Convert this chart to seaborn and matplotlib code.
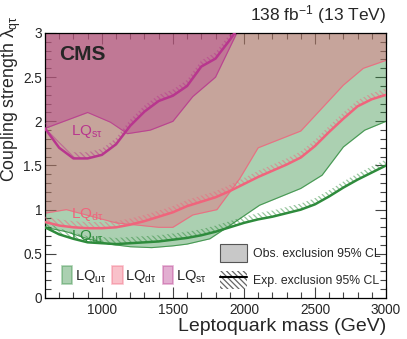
import numpy as np
import pandas as pd
import matplotlib
matplotlib.use("Agg")
import matplotlib.pyplot as plt
import seaborn as sns
from matplotlib.patches import Patch
from matplotlib.lines import Line2D
from matplotlib.ticker import MultipleLocator, FixedLocator, FixedFormatter
from matplotlib.legend_handler import HandlerTuple

# expected limits (smooth curves)
mass_exp = [600, 700, 800, 900, 1000, 1100, 1200, 1300, 1400, 1500, 1600, 1700, 1800,
            1900, 2000, 2100, 2200, 2300, 2400, 2500, 2600, 2700, 2800, 2900, 3000]
exp_ut = [0.80, 0.72, 0.67, 0.63, 0.62, 0.61, 0.62, 0.63, 0.64, 0.66, 0.68, 0.71, 0.75,
          0.80, 0.85, 0.89, 0.92, 0.96, 1.00, 1.06, 1.15, 1.25, 1.34, 1.42, 1.50]
exp_dt = [0.86, 0.82, 0.80, 0.79, 0.79, 0.80, 0.83, 0.87, 0.92, 0.97, 1.04, 1.09, 1.14,
          1.21, 1.29, 1.37, 1.44, 1.51, 1.59, 1.72, 1.88, 2.03, 2.17, 2.25, 2.30]
mass_exp_st = [600, 700, 800, 900, 1000, 1100, 1200, 1300, 1400, 1500, 1600, 1700, 1800, 1900, 2000]
exp_st = [1.92, 1.70, 1.58, 1.58, 1.62, 1.74, 1.95, 2.11, 2.23, 2.29, 2.40, 2.62, 2.71, 2.92, 3.15]

# observed limits (polygon-like edges of the excluded regions)
mass_obs_ut = [600, 750, 900, 1050, 1200, 1350, 1500, 1600, 1760, 1900, 2110, 2400, 2550, 2700, 2850, 3000]
obs_ut = [0.80, 0.75, 0.67, 0.61, 0.58, 0.57, 0.59, 0.61, 0.67, 0.82, 1.05, 1.24, 1.39, 1.71, 1.90, 2.00]
mass_obs_dt = [600, 750, 1100, 1400, 1500, 1640, 1810, 1970, 2100, 2400, 2700, 2840, 3000]
obs_dt = [0.96, 1.00, 0.85, 0.80, 0.80, 0.94, 1.00, 1.35, 1.70, 1.89, 2.41, 2.60, 2.69]
mass_obs_st = [600, 900, 1060, 1180, 1340, 1500, 1640, 1800, 1950, 2100]
obs_st = [1.92, 2.10, 1.99, 1.86, 1.90, 2.00, 2.28, 2.50, 3.00, 3.40]

yticks = [0, 0.5, 1, 1.5, 2, 2.5, 3]
ytick_labels = ["0", "0.5", "1", "1.5", "2", "2.5", "3"]
xticks = [1000, 1500, 2000, 2500, 3000]

labels = ["LQ$_{\\mathregular{u\\tau}}$", "LQ$_{\\mathregular{d\\tau}}$", "LQ$_{\\mathregular{s\\tau}}$"]
colors = ["#2e8b3c", "#f0647c", "#b8368e"]
fill_alpha = 0.4

sns.set_style("ticks")
plt.rcParams["font.family"] = ["Liberation Sans", "DejaVu Sans"]
plt.rcParams["mathtext.fontset"] = "custom"
plt.rcParams["mathtext.rm"] = "Liberation Sans"
plt.rcParams["mathtext.it"] = "Liberation Sans"
plt.rcParams["mathtext.bf"] = "Liberation Sans:bold"
plt.rcParams["hatch.linewidth"] = 0.9

fig = plt.figure(figsize=(4.07, 3.39), dpi=100)
ax = fig.add_axes([0.1106, 0.121, 0.8378, 0.7817])

curves = [
    (mass_obs_ut, obs_ut, mass_exp, exp_ut),
    (mass_obs_dt, obs_dt, mass_exp, exp_dt),
    (mass_obs_st, obs_st, mass_exp_st, exp_st),
]

# observed excluded regions (above the observed limit)
for (mo, yo, me, ye), c in zip(curves, colors):
    ax.fill_between(mo, yo, 4, facecolor=c, alpha=fill_alpha, lw=0, zorder=1)
    ax.plot(mo, yo, color=c, lw=0.8, alpha=0.8, zorder=2)

# expected limits with hatched band on the excluded side
for (mo, yo, me, ye), c in zip(curves, colors):
    ye = np.array(ye)
    ax.fill_between(me, ye, ye + 0.07, facecolor="none", edgecolor=c, alpha=0.5,
                    hatch="\\\\\\\\\\\\", lw=0, zorder=3)
    df = pd.DataFrame({"mass": me, "lam": ye})
    sns.lineplot(data=df, x="mass", y="lam", ax=ax, color=c, lw=1.8, zorder=4)

ax.set_xlim(600, 3000)
ax.set_ylim(0, 3)
ax.xaxis.set_major_locator(FixedLocator(xticks))
ax.xaxis.set_minor_locator(MultipleLocator(100))
ax.yaxis.set_major_locator(FixedLocator(yticks))
ax.yaxis.set_major_formatter(FixedFormatter(ytick_labels))
ax.yaxis.set_minor_locator(MultipleLocator(0.1))
ax.tick_params(which="both", direction="in", top=True, right=True, labelsize=9.8,
               color="#444444", width=0.8)
ax.tick_params(which="major", length=8)
ax.tick_params(which="minor", length=4)
ax.tick_params(axis="y", which="major", pad=2)
for s in ax.spines.values():
    s.set_linewidth(0.9)
    s.set_color("black")

ax.set_xlabel("Leptoquark mass (GeV)", fontsize=14, loc="right", labelpad=1)
ax.set_ylabel("Coupling strength $\\lambda_{\\mathregular{q\\tau}}$", fontsize=12.8,
              ha="right", va="center")
ax.yaxis.set_label_coords(-0.099, 1.065)

ax.text(0.04, 0.955, "CMS", transform=ax.transAxes, fontsize=15, fontweight="bold",
        va="top", ha="left", zorder=6)
ax.text(1.0, 1.025, "138 fb$^{-1}$ (13 TeV)", transform=ax.transAxes, fontsize=12.5,
        ha="right", va="bottom")

# curve labels
ax.text(780, 1.84, labels[2], color=colors[2], fontsize=11, zorder=6)
ax.text(780, 0.90, labels[1], color=colors[1], fontsize=11, zorder=6)
ax.text(780, 0.66, labels[0], color=colors[0], fontsize=11, zorder=6)

# legend of the three couplings
lq_handles = [Patch(facecolor=c, alpha=0.4, edgecolor=c, lw=1.2) for c in colors]
leg1 = ax.legend(lq_handles, labels, ncol=3, loc="lower left", bbox_to_anchor=(0.05, 0.05),
                 frameon=False, fontsize=10.5, handlelength=0.7, handleheight=1.5,
                 handletextpad=0.2, columnspacing=0.4, borderpad=0, borderaxespad=0)
ax.add_artist(leg1)

# legend for observed / expected
obs_h = Patch(facecolor="#c8c8c8", edgecolor="#555555", lw=0.8)
exp_h = (Patch(facecolor="white", edgecolor="#666666", hatch="\\\\\\\\\\\\", lw=0),
         Line2D([], [], color="black", lw=1.5))
ax.legend([obs_h, exp_h], ["Obs. exclusion 95% CL", "Exp. exclusion 95% CL"],
          loc="lower left", bbox_to_anchor=(0.513, 0.035), frameon=False, fontsize=8.8,
          handlelength=2.2, handleheight=1.9, labelspacing=0.7, handletextpad=0.5,
          borderpad=0, borderaxespad=0,
          handler_map={tuple: HandlerTuple(ndivide=1, pad=0)})

fig.savefig("out.png", dpi=100)
